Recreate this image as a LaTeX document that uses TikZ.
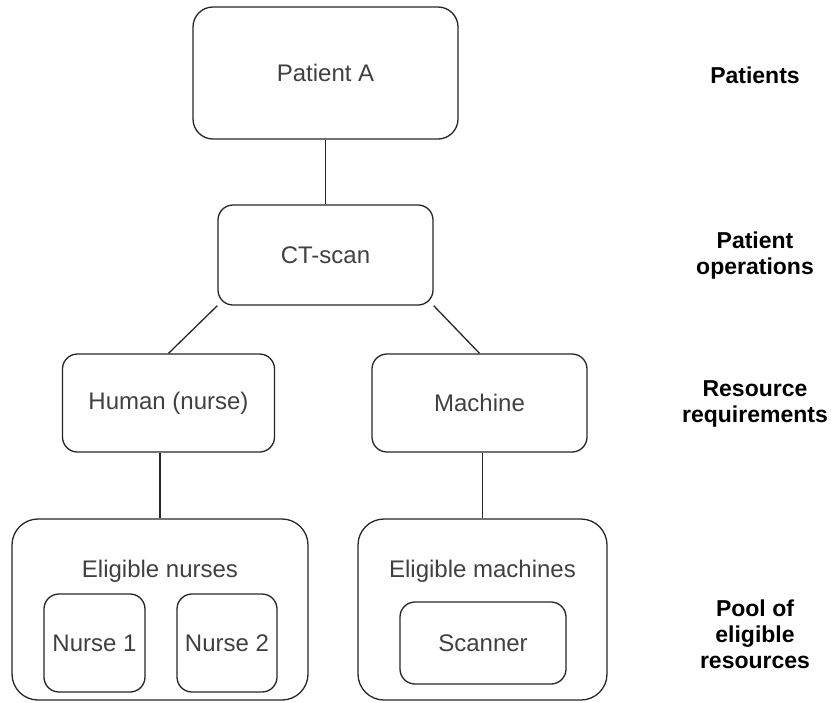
\documentclass[tikz,border=0pt]{standalone}
\usepackage{fontspec}
\setmainfont{Liberation Sans}
\begin{document}
\begin{tikzpicture}[x=1pt,y=-1pt,
  box/.style={draw=black!85, line width=1.3pt, rounded corners=#1, inner sep=0pt,
    text=black!75, font=\fontsize{24}{28}\selectfont},
  box/.default=15pt,
  txt/.style={inner sep=0pt, text=black!75, font=\fontsize{24}{28}\selectfont},
  lbl/.style={inner sep=0pt, align=center, text=black, font=\bfseries\fontsize{23}{26}\selectfont},
  conn/.style={draw=black!85, line width=1.3pt}]
\useasboundingbox (0,0) rectangle (837,702);
% main boxes
\node[box=20pt, minimum width=265pt, minimum height=132pt] (pa) at (325.5,73) {Patient A};
\node[box, minimum width=215pt, minimum height=100pt] (ct) at (325.5,255) {CT-scan};
\node[box, minimum width=212pt, minimum height=98pt] (hum) at (168.5,403) {Human (nurse)};
\node[box, minimum width=215pt, minimum height=98pt] (mach) at (479.5,403) {Machine};
% pools
\node[box=26pt, minimum width=296pt, minimum height=181pt] (pn) at (160,609.5) {};
\node[box=26pt, minimum width=249pt, minimum height=181pt] (pm) at (482.5,609.5) {};
\node[txt] (pnl) at (160,571) {Eligible nurses};
\node[txt] (pml) at (482.5,571) {Eligible machines};
\node[box, minimum width=101pt, minimum height=98pt] (n1) at (94.5,643) {Nurse 1};
\node[box, minimum width=100pt, minimum height=98pt] (n2) at (227,643) {Nurse 2};
\node[box, minimum width=166pt, minimum height=82pt] (sc) at (483,643) {Scanner};
% right labels
\node[lbl] (l1) at (755,75) {Patients};
\node[lbl] (l2) at (755,256) {Patient\\operations};
\node[lbl] (l3) at (755,404) {Resource\\requirements};
\node[lbl] (l4) at (755,634) {Pool of\\eligible\\resources};
% connectors
\draw[conn] (pa) -- (ct);
\draw[conn] (ct.south west) -- (hum.north);
\draw[conn] (ct.south east) -- (mach.north);
\draw[conn] (pn.north) -- (pn.north |- hum.south);
\draw[conn] (pm.north) -- (pm.north |- mach.south);
\end{tikzpicture}
\end{document}
